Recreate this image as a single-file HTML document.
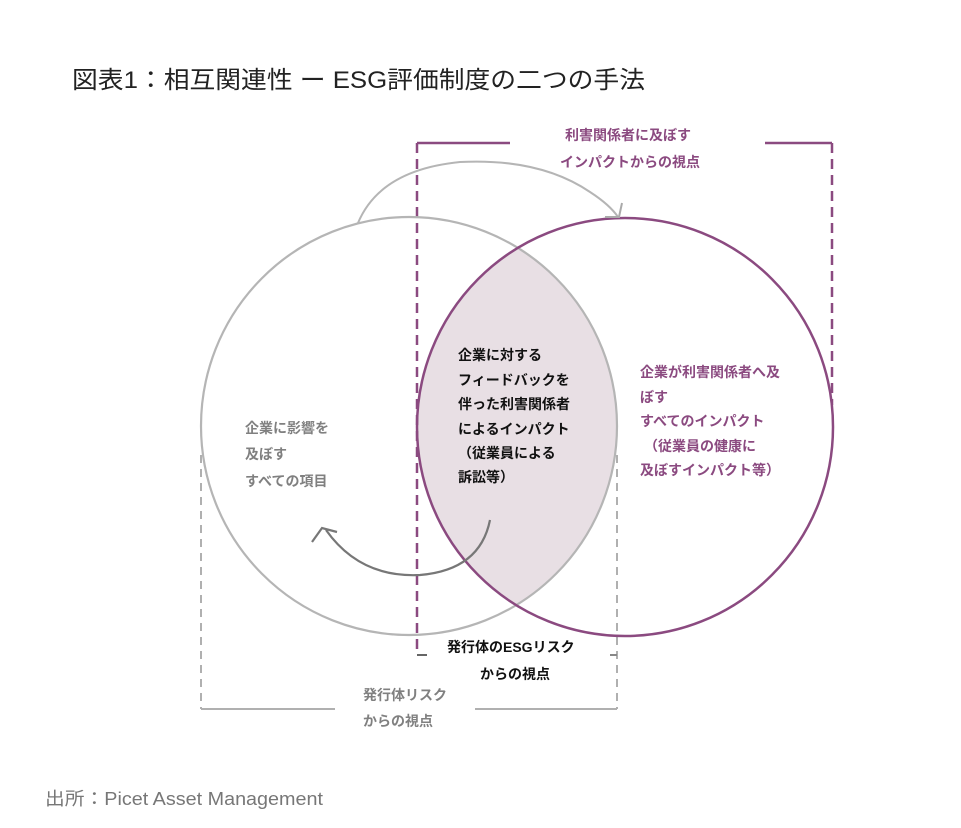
<!DOCTYPE html>
<html><head><meta charset="utf-8"><style>
html,body{margin:0;padding:0;background:#fff;}
svg{display:block;}
text{font-family:"Liberation Sans","Noto Sans CJK JP",sans-serif;}
</style></head><body>
<svg width="961" height="828" viewBox="0 0 961 828" xmlns="http://www.w3.org/2000/svg">
<defs>
<clipPath id="cl"><ellipse cx="409" cy="426" rx="208" ry="209"/></clipPath>
</defs>
<text x="72" y="88" font-size="24" fill="#222" textLength="573" lengthAdjust="spacingAndGlyphs">図表1：相互関連性 ー ESG評価制度の二つの手法</text>

<ellipse cx="625" cy="427" rx="208" ry="209" fill="#e8dfe4" clip-path="url(#cl)"/>

<g stroke="#b0b0b0" stroke-width="2" fill="none">
<line x1="201" y1="455" x2="201" y2="709" stroke-dasharray="8,6"/>
<line x1="617" y1="455" x2="617" y2="709" stroke-dasharray="8,6"/>
<line x1="201" y1="709" x2="335" y2="709"/>
<line x1="475" y1="709" x2="617" y2="709"/>
<line x1="610" y1="655" x2="617" y2="655" stroke="#888"/>
</g>

<g stroke="#8b4a80" stroke-width="2.5" fill="none">
<line x1="417" y1="143" x2="510" y2="143"/>
<line x1="765" y1="143" x2="832" y2="143"/>
<line x1="417" y1="143" x2="417" y2="655" stroke-dasharray="10,6"/>
<line x1="832" y1="143" x2="832" y2="405" stroke-dasharray="10,6"/>
</g>
<line x1="417" y1="655" x2="427" y2="655" stroke="#666" stroke-width="2"/>

<ellipse cx="409" cy="426" rx="208" ry="209" fill="none" stroke="#b5b5b5" stroke-width="2.2"/>
<ellipse cx="625" cy="427" rx="208" ry="209" fill="none" stroke="#8b4a80" stroke-width="2.5"/>

<path d="M358,223 Q 380,170 460,162 Q 540,158 590,192 Q 610,205 618,217" fill="none" stroke="#b5b5b5" stroke-width="2"/>
<path d="M605,217 L619,217 L622,203" fill="none" stroke="#aaa" stroke-width="2"/>

<path d="M490,520 Q 480,570 420,575 Q 360,578 326,530" fill="none" stroke="#777" stroke-width="2.2"/>
<path d="M312,542 L322,528 L337,532" fill="none" stroke="#777" stroke-width="2.2"/>

<g font-size="14" font-weight="bold">
<g fill="#8b4a80">
<text x="565" y="140">利害関係者に及ぼす</text>
<text x="560" y="167">インパクトからの視点</text>
<text x="640" y="377">企業が利害関係者へ及</text>
<text x="640" y="402">ぼす</text>
<text x="640" y="426">すべてのインパクト</text>
<text x="644" y="451">（従業員の健康に</text>
<text x="640" y="475">及ぼすインパクト等）</text>
</g>
<g fill="#111">
<text x="458" y="360">企業に対する</text>
<text x="458" y="385">フィードバックを</text>
<text x="458" y="409">伴った利害関係者</text>
<text x="458" y="434">によるインパクト</text>
<text x="458" y="458">（従業員による</text>
<text x="458" y="482">訴訟等）</text>
<text x="447" y="652">発行体のESGリスク</text>
<text x="480" y="679">からの視点</text>
</g>
<g fill="#808080">
<text x="245" y="433">企業に影響を</text>
<text x="245" y="459">及ぼす</text>
<text x="245" y="486">すべての項目</text>
<text x="363" y="700">発行体リスク</text>
<text x="363" y="726">からの視点</text>
</g>
</g>
<text x="45" y="805" font-size="18" fill="#777" textLength="278" lengthAdjust="spacingAndGlyphs">出所：Picet Asset Management</text>
</svg>
</body></html>
